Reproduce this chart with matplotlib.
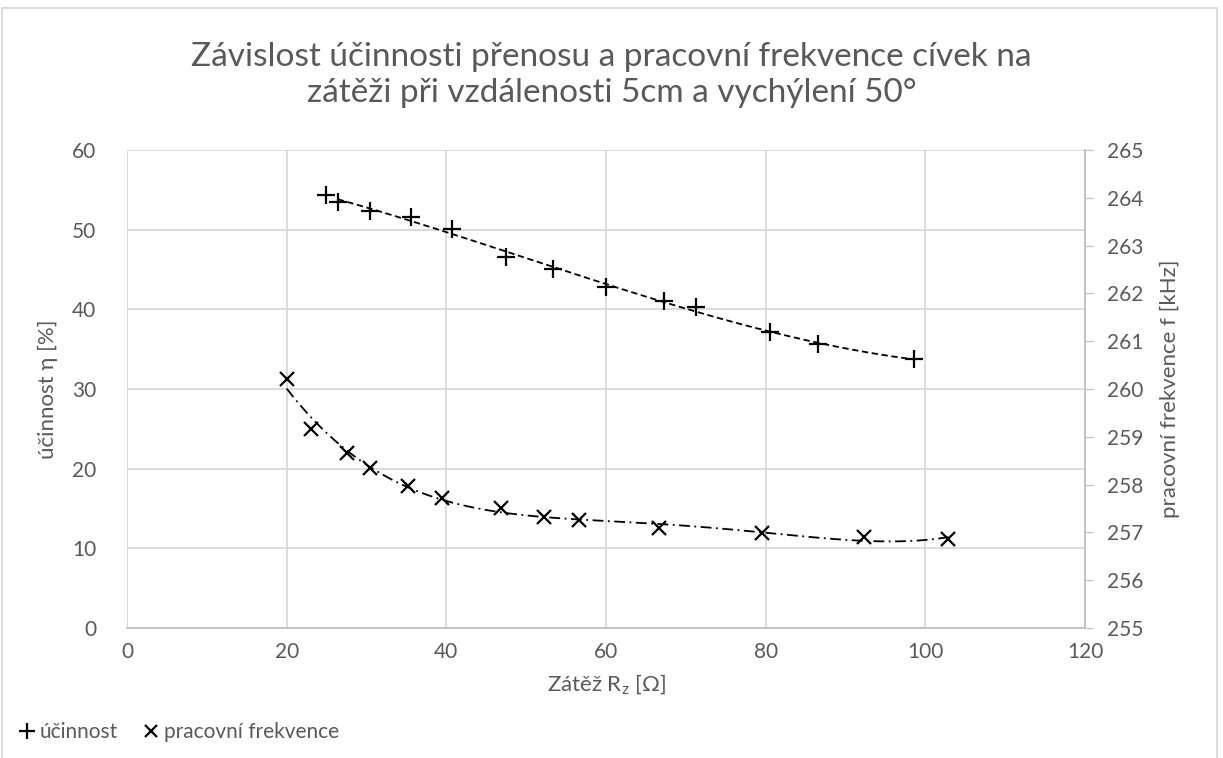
import numpy as np
import matplotlib
matplotlib.use('Agg')
import matplotlib.pyplot as plt
from matplotlib.lines import Line2D
from matplotlib.patches import Rectangle

# zatez [ohm] a ucinnost [%]
r_ucinnost = [24.9, 26.4, 30.4, 35.6, 40.7, 47.5, 53.4, 60.0, 67.3, 71.3, 80.6, 86.6, 98.6]
ucinnost = [54.4, 53.5, 52.4, 51.6, 50.1, 46.6, 45.1, 42.8, 41.1, 40.25, 37.1, 35.6, 33.75]

# zatez [ohm] a pracovni frekvence [kHz]
r_frekvence = [20.0, 23.1, 27.5, 30.5, 35.2, 39.5, 46.8, 52.2, 56.6, 66.6, 79.5, 92.3, 102.9]
frekvence = [260.20, 259.17, 258.67, 258.35, 257.98, 257.73, 257.50, 257.33, 257.25,
             257.10, 256.98, 256.90, 256.87]

plt.rcParams['font.family'] = ['Lato', 'DejaVu Sans']
gray = '#595959'
grid = '#d9d9d9'

fig = plt.figure(figsize=(12.23, 7.58), dpi=100)
ax = fig.add_axes([127 / 1223, 1 - 628 / 758, (1085 - 127) / 1223, (628 - 150) / 758])
ax2 = ax.twinx()

# body
ax.plot(r_ucinnost, ucinnost, linestyle='none', marker='+', markersize=13,
        markeredgewidth=1.6, color='black', zorder=3)
ax2.plot(r_frekvence, frekvence, linestyle='none', marker='x', markersize=10,
         markeredgewidth=1.6, color='black', zorder=3)

# spojnice trendu (polynom)
c1 = np.polyfit(r_ucinnost, ucinnost, 3)
xs = np.linspace(r_ucinnost[1], r_ucinnost[-1], 200)
ax.plot(xs, np.polyval(c1, xs), color='black', linestyle=(0, (3.5, 2)), linewidth=1.3)

c2 = np.polyfit(r_frekvence, frekvence, 4)
xs2 = np.linspace(r_frekvence[0], r_frekvence[-1], 200)
ax2.plot(xs2, np.polyval(c2, xs2), color='black', linestyle=(0, (6, 2.5, 1, 2.5)), linewidth=1.3)

ax.set_xlim(0, 120)
ax.set_ylim(0, 60)
ax2.set_ylim(255, 265)
ax.set_xticks(range(0, 121, 20))
ax.set_yticks(range(0, 61, 10))
ax2.set_yticks(range(255, 266, 1))

ax.grid(True, color=grid, linewidth=1.3)
ax.set_axisbelow(True)
for s in ['top', 'left']:
    ax.spines[s].set_visible(False)
    ax2.spines[s].set_visible(False)
ax.spines['right'].set_visible(False)
ax.spines['bottom'].set_color('#bfbfbf')
ax.spines['bottom'].set_linewidth(1.3)
ax2.spines['bottom'].set_visible(False)
ax2.spines['right'].set_color('#bfbfbf')
ax2.spines['right'].set_linewidth(1.3)

ax.tick_params(axis='y', length=0, labelsize=15, labelcolor=gray, pad=22)
ax.tick_params(axis='x', length=0, labelsize=15, labelcolor=gray, pad=10)
ax2.tick_params(axis='y', length=6, color='#bfbfbf', labelsize=15, labelcolor=gray, pad=10)

ax.set_xlabel('Zátěž R$_\\mathregular{z}$ [Ω]', fontsize=16, color=gray, labelpad=8)
ax.set_ylabel('účinnost η [%]', fontsize=16, color=gray, labelpad=10)
ax2.set_ylabel('pracovní frekvence f [kHz]', fontsize=16, color=gray, labelpad=12)

fig.text(0.5, 1 - 75 / 758, 'Závislost účinnosti přenosu a pracovní frekvence cívek na\n'
         'zátěži při vzdálenosti 5cm a vychýlení 50°',
         ha='center', va='center', fontsize=24, color=gray, linespacing=1.25)

handles = [Line2D([], [], linestyle='none', marker='+', markersize=11, markeredgewidth=1.6, color='black'),
           Line2D([], [], linestyle='none', marker='x', markersize=9, markeredgewidth=1.6, color='black')]
fig.legend(handles, ['účinnost', 'pracovní frekvence'], loc='center left',
           bbox_to_anchor=(0.0, 1 - 732 / 758), ncol=2, frameon=False, fontsize=15,
           labelcolor=gray, handlelength=0.8, handletextpad=0.2, columnspacing=1.2)

fig.patches.append(Rectangle((2 / 1223, -0.01), 1 - 8 / 1223, 1.0, transform=fig.transFigure,
                             fill=False, edgecolor=grid, linewidth=1.3))

fig.savefig('out.png', dpi=100)
